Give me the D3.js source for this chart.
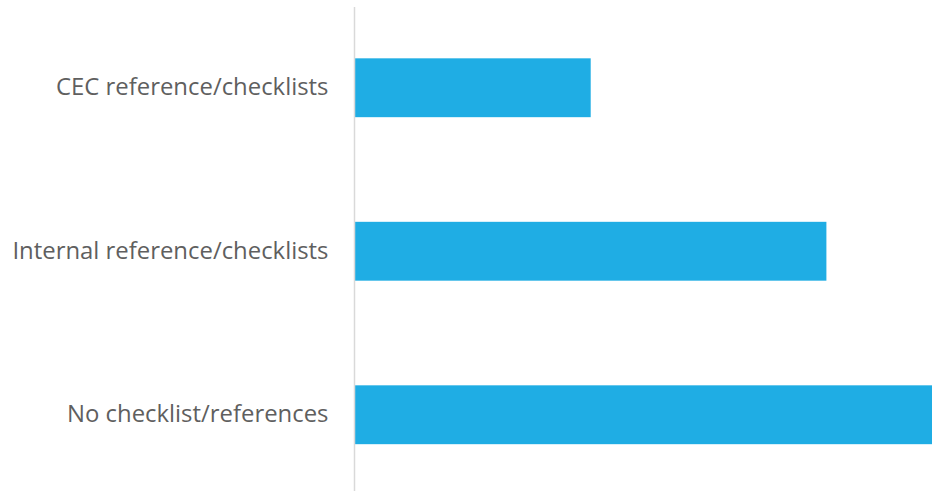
<!DOCTYPE html>
<html>
<head>
<meta charset="utf-8">
<script src="https://cdn.jsdelivr.net/npm/d3@7/dist/d3.min.js"></script>
<style>
  html, body { margin: 0; padding: 0; background: #fff; overflow: hidden; }
  svg { display: block; }
</style>
</head>
<body>
<svg id="chart" width="932" height="491"></svg>
<script>
// Share of respondents by type of reference used
const categories = ["CEC reference/checklists", "Internal reference/checklists", "No checklist/references"];
const values = [10, 20, 25];

const svg = d3.select("#chart");
const left = 355;

const x = d3.scaleLinear().domain([0, 25]).range([left, left + 25 * 23.57]);
const y = d3.scaleBand().domain(categories).range([6, 496.5]).paddingInner(0.64).paddingOuter(0.32);

svg.selectAll("rect.bar")
  .data(categories)
  .join("rect")
  .attr("class", "bar")
  .attr("x", x(0))
  .attr("y", d => y(d))
  .attr("height", y.bandwidth())
  .attr("width", (d, i) => x(values[i]) - x(0))
  .attr("fill", "#1fade4");

const axis = svg.append("g")
  .attr("transform", `translate(${left - 0.5},0)`)
  .call(d3.axisLeft(y).tickSize(0).tickPadding(26));
axis.select(".domain").remove();
axis.append("line")
  .attr("x1", 0).attr("x2", 0)
  .attr("y1", 7).attr("y2", 491)
  .attr("stroke", "#d9d9d9").attr("stroke-width", 1.5);
axis.selectAll("text")
  .attr("fill", "#5f5f5f")
  .style("font-family", "'Open Sans', sans-serif")
  .style("font-size", "23.9px");
</script>
</body>
</html>
